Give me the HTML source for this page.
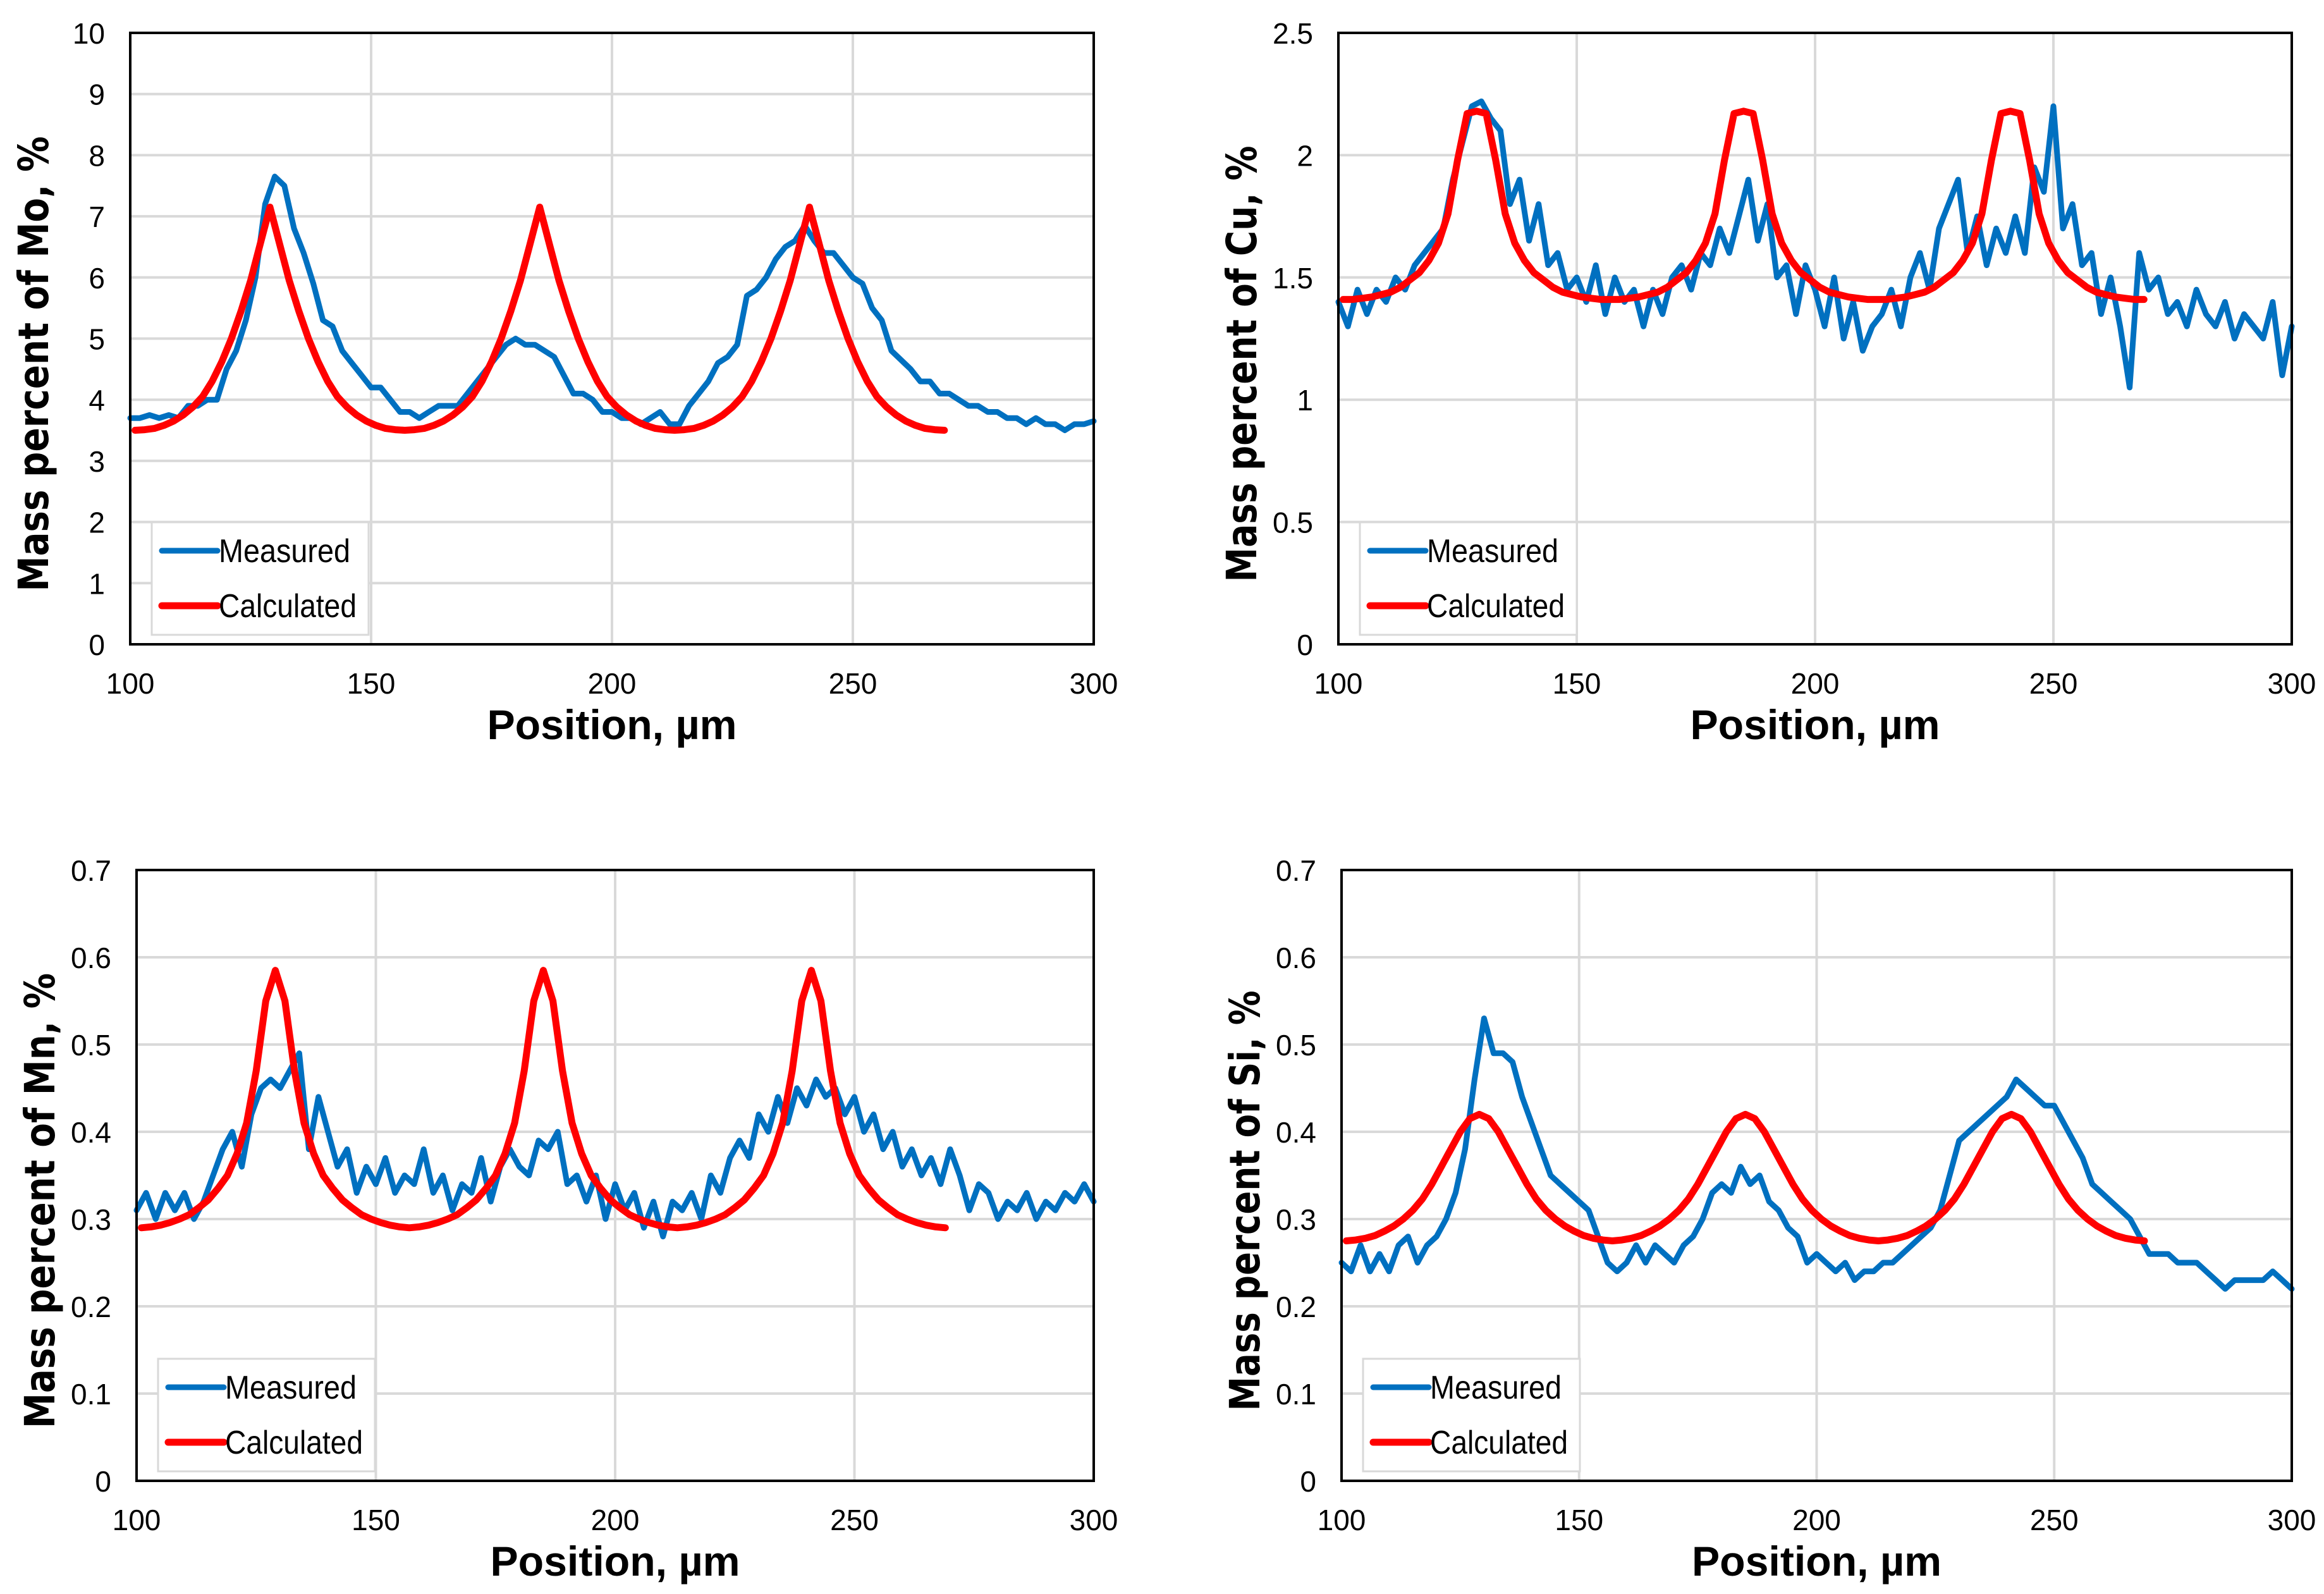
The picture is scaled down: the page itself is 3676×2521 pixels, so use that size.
<!DOCTYPE html>
<html><head><meta charset="utf-8">
<style>
html,body{margin:0;padding:0;background:#fff;}
svg{display:block;}
</style></head>
<body>
<svg id="root" xmlns="http://www.w3.org/2000/svg" width="3676" height="2521" viewBox="0 0 3676 2521">
<rect width="3676" height="2521" fill="#fff"/>
</svg>
<script>
const xTicks = [100,150,200,250,300];
const measX = [100,102,104,106,108,110,112,114,116,118,120,122,124,126,128,130,132,134,136,138,140,142,144,146,148,150,152,154,156,158,160,162,164,166,168,170,172,174,176,178,180,182,184,186,188,190,192,194,196,198,200,202,204,206,208,210,212,214,216,218,220,222,224,226,228,230,232,234,236,238,240,242,244,246,248,250,252,254,256,258,260,262,264,266,268,270,272,274,276,278,280,282,284,286,288,290,292,294,296,298,300];
const calcX = [101,103,105,107,109,111,113,115,117,119,121,123,125,127,129,131,133,135,137,139,141,143,145,147,149,151,153,155,157,159,161,163,165,167,169,171,173,175,177,179,181,183,185,187,189,191,193,195,197,199,201,203,205,207,209,211,213,215,217,219,221,223,225,227,229,231,233,235,237,239,241,243,245,247,249,251,253,255,257,259,261,263,265,267,269];

const moMeasured = [3.7,3.7,3.75,3.7,3.75,3.7,3.9,3.9,4.0,4.0,4.5,4.8,5.3,6.0,7.2,7.65,7.5,6.8,6.4,5.9,5.3,5.2,4.8,4.6,4.4,4.2,4.2,4.0,3.8,3.8,3.7,3.8,3.9,3.9,3.9,4.1,4.3,4.5,4.7,4.9,5.0,4.9,4.9,4.8,4.7,4.4,4.1,4.1,4.0,3.8,3.8,3.7,3.7,3.6,3.7,3.8,3.6,3.6,3.9,4.1,4.3,4.6,4.7,4.9,5.7,5.8,6.0,6.3,6.5,6.6,6.85,6.6,6.4,6.4,6.2,6.0,5.9,5.5,5.3,4.8,4.65,4.5,4.3,4.3,4.1,4.1,4.0,3.9,3.9,3.8,3.8,3.7,3.7,3.6,3.7,3.6,3.6,3.5,3.6,3.6,3.65];
const moCalculated = [3.5,3.51,3.53,3.58,3.65,3.75,3.88,4.05,4.3,4.62,5.0,5.45,5.95,6.55,7.15,6.55,5.95,5.45,5.0,4.62,4.3,4.05,3.88,3.75,3.65,3.58,3.53,3.51,3.5,3.51,3.53,3.58,3.65,3.75,3.88,4.05,4.3,4.62,5.0,5.45,5.95,6.55,7.15,6.55,5.95,5.45,5.0,4.62,4.3,4.05,3.88,3.75,3.65,3.58,3.53,3.51,3.5,3.51,3.53,3.58,3.65,3.75,3.88,4.05,4.3,4.62,5.0,5.45,5.95,6.55,7.15,6.55,5.95,5.45,5.0,4.62,4.3,4.05,3.88,3.75,3.65,3.58,3.53,3.51,3.5];

const cuMeasured = [1.4,1.3,1.45,1.35,1.45,1.4,1.5,1.45,1.55,1.6,1.65,1.7,1.9,2.05,2.2,2.22,2.15,2.1,1.8,1.9,1.65,1.8,1.55,1.6,1.45,1.5,1.4,1.55,1.35,1.5,1.4,1.45,1.3,1.45,1.35,1.5,1.55,1.45,1.6,1.55,1.7,1.6,1.75,1.9,1.65,1.8,1.5,1.55,1.35,1.55,1.45,1.3,1.5,1.25,1.4,1.2,1.3,1.35,1.45,1.3,1.5,1.6,1.45,1.7,1.8,1.9,1.6,1.75,1.55,1.7,1.6,1.75,1.6,1.95,1.85,2.2,1.7,1.8,1.55,1.6,1.35,1.5,1.3,1.05,1.6,1.45,1.5,1.35,1.4,1.3,1.45,1.35,1.3,1.4,1.25,1.35,1.3,1.25,1.4,1.1,1.3];
const cuCalculated = [1.41,1.41,1.415,1.42,1.43,1.44,1.46,1.49,1.52,1.57,1.64,1.76,1.98,2.17,2.18,2.17,1.98,1.76,1.64,1.57,1.52,1.49,1.46,1.44,1.43,1.42,1.415,1.41,1.41,1.41,1.415,1.42,1.43,1.44,1.46,1.49,1.52,1.57,1.64,1.76,1.98,2.17,2.18,2.17,1.98,1.76,1.64,1.57,1.52,1.49,1.46,1.44,1.43,1.42,1.415,1.41,1.41,1.41,1.415,1.42,1.43,1.44,1.46,1.49,1.52,1.57,1.64,1.76,1.98,2.17,2.18,2.17,1.98,1.76,1.64,1.57,1.52,1.49,1.46,1.44,1.43,1.42,1.415,1.41,1.41];

const mnMeasured = [0.31,0.33,0.30,0.33,0.31,0.33,0.30,0.32,0.35,0.38,0.40,0.36,0.42,0.45,0.46,0.45,0.47,0.49,0.38,0.44,0.40,0.36,0.38,0.33,0.36,0.34,0.37,0.33,0.35,0.34,0.38,0.33,0.35,0.31,0.34,0.33,0.37,0.32,0.36,0.38,0.36,0.35,0.39,0.38,0.40,0.34,0.35,0.32,0.35,0.30,0.34,0.31,0.33,0.29,0.32,0.28,0.32,0.31,0.33,0.30,0.35,0.33,0.37,0.39,0.37,0.42,0.40,0.44,0.41,0.45,0.43,0.46,0.44,0.45,0.42,0.44,0.40,0.42,0.38,0.40,0.36,0.38,0.35,0.37,0.34,0.38,0.35,0.31,0.34,0.33,0.30,0.32,0.31,0.33,0.30,0.32,0.31,0.33,0.32,0.34,0.32];
const mnCalculated = [0.29,0.291,0.293,0.296,0.30,0.305,0.313,0.322,0.335,0.35,0.375,0.41,0.47,0.55,0.585,0.55,0.47,0.41,0.375,0.35,0.335,0.322,0.313,0.305,0.30,0.296,0.293,0.291,0.29,0.291,0.293,0.296,0.30,0.305,0.313,0.322,0.335,0.35,0.375,0.41,0.47,0.55,0.585,0.55,0.47,0.41,0.375,0.35,0.335,0.322,0.313,0.305,0.30,0.296,0.293,0.291,0.29,0.291,0.293,0.296,0.30,0.305,0.313,0.322,0.335,0.35,0.375,0.41,0.47,0.55,0.585,0.55,0.47,0.41,0.375,0.35,0.335,0.322,0.313,0.305,0.30,0.296,0.293,0.291,0.29];

const siMeasured = [0.25,0.24,0.27,0.24,0.26,0.24,0.27,0.28,0.25,0.27,0.28,0.30,0.33,0.38,0.46,0.53,0.49,0.49,0.48,0.44,0.41,0.38,0.35,0.34,0.33,0.32,0.31,0.28,0.25,0.24,0.25,0.27,0.25,0.27,0.26,0.25,0.27,0.28,0.30,0.33,0.34,0.33,0.36,0.34,0.35,0.32,0.31,0.29,0.28,0.25,0.26,0.25,0.24,0.25,0.23,0.24,0.24,0.25,0.25,0.26,0.27,0.28,0.29,0.31,0.35,0.39,0.40,0.41,0.42,0.43,0.44,0.46,0.45,0.44,0.43,0.43,0.41,0.39,0.37,0.34,0.33,0.32,0.31,0.30,0.28,0.26,0.26,0.26,0.25,0.25,0.25,0.24,0.23,0.22,0.23,0.23,0.23,0.23,0.24,0.23,0.22];
const siCalculated = [0.275,0.276,0.278,0.281,0.286,0.292,0.30,0.31,0.323,0.34,0.36,0.38,0.40,0.415,0.42,0.415,0.40,0.38,0.36,0.34,0.323,0.31,0.30,0.292,0.286,0.281,0.278,0.276,0.275,0.276,0.278,0.281,0.286,0.292,0.30,0.31,0.323,0.34,0.36,0.38,0.40,0.415,0.42,0.415,0.40,0.38,0.36,0.34,0.323,0.31,0.30,0.292,0.286,0.281,0.278,0.276,0.275,0.276,0.278,0.281,0.286,0.292,0.30,0.31,0.323,0.34,0.36,0.38,0.40,0.415,0.42,0.415,0.40,0.38,0.36,0.34,0.323,0.31,0.30,0.292,0.286,0.281,0.278,0.276,0.275];

const moYTicks = ['0','1','2','3','4','5','6','7','8','9','10'];
const cuYTicks = ['0','0.5','1','1.5','2','2.5'];
const mnYTicks = ['0','0.1','0.2','0.3','0.4','0.5','0.6','0.7'];
const siYTicks = ['0','0.1','0.2','0.3','0.4','0.5','0.6','0.7'];

const NS = 'http://www.w3.org/2000/svg';
const root = document.getElementById('root');
function mk(tag, parent){ const e=document.createElementNS(NS,tag); parent.appendChild(e); return e; }

function panel(key, L, R, T, B, yMax, yTicks, meas, calc, ytitle){
  const g = mk('g', root);
  
  
  const xs = v => L + (v-100)/200*(R-L);
  const ys = v => B - v/yMax*(B-T);
  yTicks.forEach(t=>{
    const v=parseFloat(t);
    const ln=mk('line',g);
    
    
    ln.setAttribute('x1',L);ln.setAttribute('x2',R);ln.setAttribute('y1',ys(v));ln.setAttribute('y2',ys(v));
    ln.setAttribute('stroke','#d9d9d9');ln.setAttribute('stroke-width','4');
    const tx=mk('text',g);
    
    
    tx.setAttribute('x',L-40);tx.setAttribute('y',ys(v)+17);
    tx.setAttribute('text-anchor','end');
    tx.setAttribute('font-family','Liberation Sans Narrow, Liberation Sans, sans-serif');
    tx.setAttribute('font-size','46');
    tx.textContent=t;
  });
  xTicks.forEach(v=>{
    const ln=mk('line',g);
    
    
    ln.setAttribute('x1',xs(v));ln.setAttribute('x2',xs(v));ln.setAttribute('y1',T);ln.setAttribute('y2',B);
    ln.setAttribute('stroke','#d9d9d9');ln.setAttribute('stroke-width','4');
    const tx=mk('text',g);
    
    
    tx.setAttribute('x',xs(v));tx.setAttribute('y',B+78);
    tx.setAttribute('text-anchor','middle');
    tx.setAttribute('font-family','Liberation Sans Narrow, Liberation Sans, sans-serif');
    tx.setAttribute('font-size','46');
    tx.textContent=String(v);
  });
  function series(xv, yv, color, w, name){
    const p=mk('polyline',g);
    
    
    p.setAttribute('points', xv.map((x,i)=>xs(x).toFixed(1)+','+ys(yv[i]).toFixed(1)).join(' '));
    p.setAttribute('fill','none');p.setAttribute('stroke',color);p.setAttribute('stroke-width',w);
    p.setAttribute('stroke-linejoin','round');p.setAttribute('stroke-linecap','round');
  }
  series(measX, meas, '#0070C0', 9, key+'-measured-line');
  series(calcX, calc, '#FF0000', 11, key+'-calculated-line');
  const fr=mk('rect',g);
  
  
  fr.setAttribute('x',L);fr.setAttribute('y',T);fr.setAttribute('width',R-L);fr.setAttribute('height',B-T);
  fr.setAttribute('fill','none');fr.setAttribute('stroke','#000');fr.setAttribute('stroke-width','4');
  const lg=mk('g',g);
  
  
  const bx=L+34, by=B-193;
  const lb=mk('rect',lg);
  
  
  lb.setAttribute('x',bx);lb.setAttribute('y',by);lb.setAttribute('width',343);lb.setAttribute('height',178);
  lb.setAttribute('fill','#fff');lb.setAttribute('stroke','#d9d9d9');lb.setAttribute('stroke-width','3');
  [['Measured','#0070C0',9,45,208],['Calculated','#FF0000',11,132,218]].forEach(e=>{
    const l=mk('line',lg);
    
    
    l.setAttribute('x1',bx+16);l.setAttribute('x2',bx+104);l.setAttribute('y1',by+e[3]);l.setAttribute('y2',by+e[3]);
    l.setAttribute('stroke',e[1]);l.setAttribute('stroke-width',e[2]);l.setAttribute('stroke-linecap','round');
    const t=mk('text',lg);
    
    
    t.setAttribute('x',bx+106);t.setAttribute('y',by+e[3]+18);
    t.setAttribute('font-family','Liberation Sans Narrow, Liberation Sans, sans-serif');
    t.setAttribute('font-size','52');
    t.setAttribute('textLength',e[4]);t.setAttribute('lengthAdjust','spacingAndGlyphs');
    t.textContent=e[0];
  });
  const xt=mk('text',g);
  
  
  xt.setAttribute('x',(L+R)/2);xt.setAttribute('y',B+150);
  xt.setAttribute('text-anchor','middle');xt.setAttribute('font-weight','bold');
  xt.setAttribute('font-family','Liberation Sans Narrow, Liberation Sans, sans-serif');
  xt.setAttribute('font-size','66');
  xt.setAttribute('textLength','395');xt.setAttribute('lengthAdjust','spacingAndGlyphs');
  xt.textContent='Position, µm';
  const yt=mk('text',g);
  
  
  const cx=L-148, cy=(T+B)/2+40;
  yt.setAttribute('x',cx);yt.setAttribute('y',cy);
  yt.setAttribute('transform','rotate(-90 '+cx+' '+cy+')');
  yt.setAttribute('text-anchor','middle');yt.setAttribute('dominant-baseline','middle');
  yt.setAttribute('font-weight','bold');
  yt.setAttribute('font-family','DejaVu Sans, Liberation Sans, sans-serif');
  yt.setAttribute('font-size','66');
  yt.setAttribute('textLength',ytitle[1]);yt.setAttribute('lengthAdjust','spacingAndGlyphs');
  yt.textContent=ytitle[0];
}

panel('mo', 206, 1730, 52, 1019, 10, moYTicks, moMeasured, moCalculated, ['Mass percent of Mo, %', 720]);
panel('cu', 2117, 3625, 52, 1019, 2.5, cuYTicks, cuMeasured, cuCalculated, ['Mass percent of Cu, %', 690]);
panel('mn', 216, 1730, 1376, 2342, 0.7, mnYTicks, mnMeasured, mnCalculated, ['Mass percent of Mn, %', 720]);
panel('si', 2122, 3625, 1376, 2342, 0.7, siYTicks, siMeasured, siCalculated, ['Mass percent of Si, %', 665]);
</script>
</body></html>
